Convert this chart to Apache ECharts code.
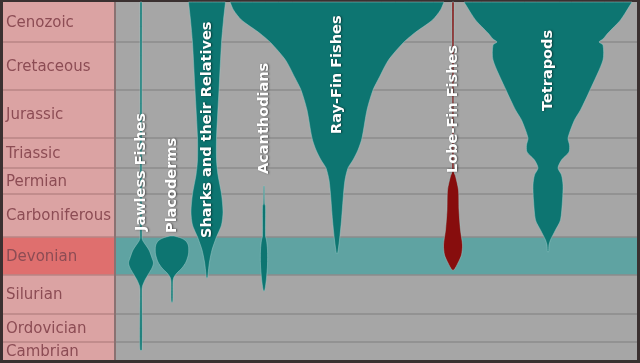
<!DOCTYPE html>
<html>
<head>
<meta charset="utf-8">
<script src="https://cdn.jsdelivr.net/npm/echarts@6/dist/echarts.min.js"></script>
<style>
  html, body { margin: 0; padding: 0; background: #3a3030; }
  #chart { width: 640px; height: 363px; }
</style>
</head>
<body>
<div id="chart"></div>
<script>
// ---- Data ----
// Geological periods (top to bottom) and their boundaries on the diagram's time axis
const periods = ['Cenozoic', 'Cretaceous', 'Jurassic', 'Triassic', 'Permian',
                 'Carboniferous', 'Devonian', 'Silurian', 'Ordovician', 'Cambrian'];
const periodEdges = [2, 42, 90, 138, 168, 194, 237, 275, 314, 342, 360];
const highlightPeriod = 'Devonian';

// Clades and their column position on the diagram's horizontal axis
const clades = ['Jawless Fishes', 'Placoderms', 'Sharks and their Relatives', 'Acanthodians',
                'Ray-Fin Fishes', 'Lobe-Fin Fishes', 'Tetrapods'];
const cladeX = [141, 172, 207, 264, 337, 453, 548];

// Spindle profiles: [time, diversity width]
const jawless = [[2, 2], [238, 2], [241, 4], [250, 16], [258, 22], [263, 25], [268, 22],
                 [274, 15], [280, 8], [286, 3], [290, 2], [350, 2]];
const placoderms = [[236, 4], [238, 18], [241, 28], [246, 33], [254, 33], [262, 28],
                    [268, 20], [273, 10], [277, 4], [281, 2], [302, 1.5]];
const sharks = [[2, 37], [20, 33], [43, 29], [90, 24], [138, 19], [160, 19], [175, 22],
                [194, 29], [212, 32], [225, 29], [237, 19], [250, 10], [262, 5], [270, 3], [278, 1]];
const acanthodians = [[186, 1], [204, 1.5], [206, 3], [236, 3], [240, 5], [250, 7],
                      [265, 7], [278, 5], [286, 3], [291, 1]];
const rayFin = [[2, 214], [10, 207], [20, 191], [33, 155], [43, 132], [60, 103], [77, 85],
                [90, 72], [110, 60], [138, 50], [150, 42], [160, 32], [168, 22], [180, 16],
                [194, 13], [220, 9], [240, 5], [254, 1]];
const lobeFin = [[2, 2], [172, 2], [176, 5], [190, 11], [210, 12], [230, 15], [245, 19],
                 [255, 17], [263, 10], [270, 2]];
const tetrapods = [[2, 168], [20, 145], [33, 120], [39, 110], [42, 102], [45, 110], [60, 110],
                   [90, 84], [110, 65], [120, 53], [138, 40], [145, 43], [152, 42], [160, 27],
                   [168, 20], [175, 27], [185, 30], [200, 29], [220, 25], [230, 15], [240, 5],
                   [245, 2], [252, 1]];
const profiles = [jawless, placoderms, sharks, acanthodians, rayFin, lobeFin, tetrapods];

// ---- Layout & style (not data) ----
const labelCol = [3, 114];
const plotCol = [116, 637];
const labelBottom = [231, 233, 238, 174, 134, 173, 111];
const cladeColors = ['#0d7571', '#0d7571', '#0d7571', '#0d7571', '#0d7571', '#870d0d', '#0d7571'];

const bandSeries = {
  type: 'custom',
  z: 1,
  coordinateSystem: 'cartesian2d',
  data: periods.map((p, i) => [i]),
  renderItem: function (params, api) {
    const i = params.dataIndex;
    const y0 = periodEdges[i], y1 = periodEdges[i + 1];
    const hi = periods[i] === highlightPeriod;
    const a = api.coord([labelCol[0], y0]), b = api.coord([labelCol[1], y1]);
    const c = api.coord([plotCol[0], y0]), d = api.coord([plotCol[1], y1]);
    const children = [
      { type: 'rect', shape: { x: a[0], y: a[1], width: b[0] - a[0], height: b[1] - a[1] },
        style: { fill: hi ? '#df6f6e' : '#dba3a3' } },
      { type: 'rect', shape: { x: c[0], y: c[1], width: d[0] - c[0], height: d[1] - c[1] },
        style: { fill: hi ? '#5fa3a2' : '#a6a6a6' } },
      { type: 'text', x: a[0] + 3, y: (a[1] + b[1]) / 2 + 1,
        style: { text: periods[i], fill: '#8c4c54', font: '15px "DejaVu Sans"',
                 align: 'left', verticalAlign: 'middle' } }
    ];
    if (i > 0) {
      children.push({ type: 'line', shape: { x1: a[0], y1: a[1], x2: b[0], y2: a[1] },
                      style: { stroke: '#b88585', lineWidth: 1.5 } });
      children.push({ type: 'line', shape: { x1: c[0], y1: c[1], x2: d[0], y2: c[1] },
                      style: { stroke: '#8b8b8b', lineWidth: 1.5 } });
    }
    if (i === 0) {
      const s0 = api.coord([labelCol[1] + 1, periodEdges[0]]);
      const s1 = api.coord([labelCol[1] + 1, periodEdges[periodEdges.length - 1]]);
      children.push({ type: 'line', shape: { x1: s0[0], y1: s0[1], x2: s1[0], y2: s1[1] },
                      style: { stroke: '#8a7272', lineWidth: 2 } });
    }
    return { type: 'group', children: children };
  }
};

const spindleSeries = {
  type: 'custom',
  z: 2,
  coordinateSystem: 'cartesian2d',
  data: clades.map((c, i) => [i]),
  renderItem: function (params, api) {
    const i = params.dataIndex;
    const cx = cladeX[i];
    const left = [], right = [];
    profiles[i].forEach(function (p) {
      left.push(api.coord([cx - p[1] / 2, p[0]]));
      right.push(api.coord([cx + p[1] / 2, p[0]]));
    });
    // duplicate the top corners so the top edge stays straight
    left.unshift(left[0].slice());
    right.unshift(right[0].slice());
    const pts = left.concat(right.reverse());
    return { type: 'polygon', shape: { points: pts, smooth: 0.25 },
             style: { fill: cladeColors[i], stroke: 'rgba(160,205,202,0.6)', lineWidth: 0.8 } };
  }
};

const labelSeries = {
  type: 'custom',
  z: 3,
  coordinateSystem: 'cartesian2d',
  data: clades.map((c, i) => [i]),
  renderItem: function (params, api) {
    const i = params.dataIndex;
    const p = api.coord([cladeX[i], labelBottom[i]]);
    return { type: 'text', x: p[0], y: p[1], rotation: Math.PI / 2,
             style: { text: clades[i], fill: '#ffffff', font: 'bold 14.5px "DejaVu Sans"',
                      align: 'left', verticalAlign: 'middle',
                      textShadowColor: 'rgba(0,0,0,0.55)', textShadowBlur: 2,
                      textShadowOffsetX: 1, textShadowOffsetY: 0 } };
  }
};

const chart = echarts.init(document.getElementById('chart'), null, { renderer: 'canvas' });
chart.setOption({
  animation: false,
  backgroundColor: '#3a3030',
  grid: { left: 0, right: 0, top: 0, bottom: 0 },
  xAxis: { type: 'value', min: 0, max: 640, show: false },
  yAxis: { type: 'value', min: 0, max: 363, inverse: true, show: false },
  graphic: [{ type: 'text', right: 8, bottom: 5,
              style: { text: '©', fill: '#5a5a5a', font: 'bold 11px "DejaVu Sans"' } }],
  series: [bandSeries, spindleSeries, labelSeries]
});
</script>
</body>
</html>
